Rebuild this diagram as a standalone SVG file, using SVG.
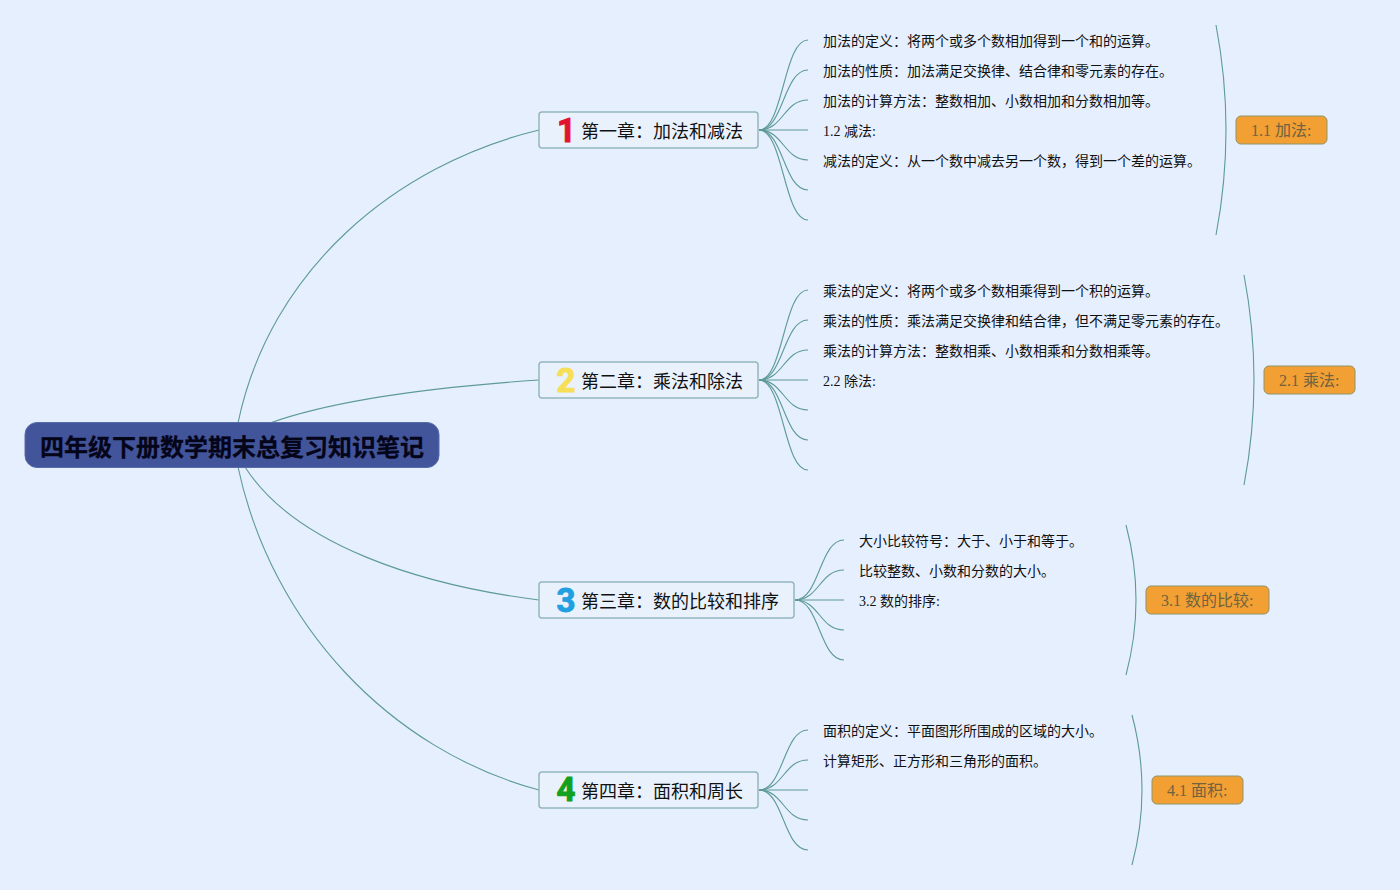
<svg xmlns="http://www.w3.org/2000/svg" width="1400" height="890" viewBox="0 0 1400 890">
<style>
text{font-family:"Liberation Serif","Noto Sans CJK SC",serif;white-space:pre}
.root{fill:#43559a;stroke:#5a6ca8;stroke-width:1}
.roott{font-family:"Liberation Sans","Noto Sans CJK SC",sans-serif;font-size:24px;font-weight:700;fill:#05051a;stroke:#05051a;stroke-width:.3}
.ch{fill:#e9f1fd;stroke:#94b7bd;stroke-width:1.5}
.cht{font-size:18px;fill:#111}
.num{font-family:Roboto,sans-serif;font-size:33px;font-weight:700;stroke-width:1;stroke-linejoin:round;text-anchor:middle}
.it{font-size:14px;fill:#111}
.lab{fill:#f2a033;stroke:#8f9468;stroke-width:1}
.labt{font-size:16px;fill:#6f6340}
.c path{fill:none;stroke:#5d9a98;stroke-width:1.1}
</style>
<rect width="1400" height="890" fill="#e6effd"/>
<g id="connectors" class="c">
<path d="M238 423C270 270 395 165 539 130"/>
<path d="M270 423C340 398 450 386 539 380"/>
<path d="M245 467C295 545 420 585 539 600"/>
<path d="M238 467C272 625 390 750 539 790"/>
<path d="M759 130C783.500 130 783.500 40 808 40"/><path d="M759 130C783.500 130 783.500 70 808 70"/><path d="M759 130C783.500 130 783.500 100 808 100"/><path d="M759 130H808"/><path d="M759 130C783.500 130 783.500 160 808 160"/><path d="M759 130C783.500 130 783.500 190 808 190"/><path d="M759 130C783.500 130 783.500 220 808 220"/>
<path d="M759 380C783.500 380 783.500 290 808 290"/><path d="M759 380C783.500 380 783.500 320 808 320"/><path d="M759 380C783.500 380 783.500 350 808 350"/><path d="M759 380H808"/><path d="M759 380C783.500 380 783.500 410 808 410"/><path d="M759 380C783.500 380 783.500 440 808 440"/><path d="M759 380C783.500 380 783.500 470 808 470"/>
<path d="M795 600C819.500 600 819.500 540 844 540"/><path d="M795 600C819.500 600 819.500 570 844 570"/><path d="M795 600H844"/><path d="M795 600C819.500 600 819.500 630 844 630"/><path d="M795 600C819.500 600 819.500 660 844 660"/>
<path d="M759 790C783.500 790 783.500 730 808 730"/><path d="M759 790C783.500 790 783.500 760 808 760"/><path d="M759 790H808"/><path d="M759 790C783.500 790 783.500 820 808 820"/><path d="M759 790C783.500 790 783.500 850 808 850"/>
<path d="M1216 25Q1236 130 1216 235"/>
<path d="M1244 275Q1264 380 1244 485"/>
<path d="M1126 525Q1146 600 1126 675"/>
<path d="M1132 715Q1152 790 1132 865"/>
</g>
<g id="root"><rect class="root" x="25" y="422.500" width="414" height="45" rx="12"/><text class="roott" x="40" y="456">四年级下册数学期末总复习知识笔记</text></g>
<g id="ch1"><rect class="ch" x="539" y="112" width="219" height="36" rx="3"/><text class="num" x="566.500" y="142" fill="#e0142f" stroke="#e0142f">1</text><text class="cht" x="581" y="138">第一章：加法和减法</text></g>
<g id="ch2"><rect class="ch" x="539" y="362" width="219" height="36" rx="3"/><text class="num" x="566" y="392" fill="#f7df55" stroke="#f7df55">2</text><text class="cht" x="581" y="388">第二章：乘法和除法</text></g>
<g id="ch3"><rect class="ch" x="539" y="582" width="255" height="36" rx="3"/><text class="num" x="566" y="612" fill="#229fe0" stroke="#229fe0">3</text><text class="cht" x="581" y="608">第三章：数的比较和排序</text></g>
<g id="ch4"><rect class="ch" x="539" y="772" width="219" height="36" rx="3"/><text class="num" x="566" y="801" fill="#12a01e" stroke="#12a01e">4</text><text class="cht" x="581" y="798">第四章：面积和周长</text></g>
<g id="items1" class="items">
<text class="it" x="823" y="46">加法的定义：将两个或多个数相加得到一个和的运算。</text>
<text class="it" x="823" y="76">加法的性质：加法满足交换律、结合律和零元素的存在。</text>
<text class="it" x="823" y="106">加法的计算方法：整数相加、小数相加和分数相加等。</text>
<text class="it" x="823" y="136">1.2 减法:</text>
<text class="it" x="823" y="166">减法的定义：从一个数中减去另一个数，得到一个差的运算。</text>
</g>
<g id="items2" class="items">
<text class="it" x="823" y="296">乘法的定义：将两个或多个数相乘得到一个积的运算。</text>
<text class="it" x="823" y="326">乘法的性质：乘法满足交换律和结合律，但不满足零元素的存在。</text>
<text class="it" x="823" y="356">乘法的计算方法：整数相乘、小数相乘和分数相乘等。</text>
<text class="it" x="823" y="386">2.2 除法:</text>
</g>
<g id="items3" class="items">
<text class="it" x="859" y="546">大小比较符号：大于、小于和等于。</text>
<text class="it" x="859" y="576">比较整数、小数和分数的大小。</text>
<text class="it" x="859" y="606">3.2 数的排序:</text>
</g>
<g id="items4" class="items">
<text class="it" x="823" y="736">面积的定义：平面图形所围成的区域的大小。</text>
<text class="it" x="823" y="766">计算矩形、正方形和三角形的面积。</text>
</g>
<g id="lab1"><rect class="lab" x="1236" y="116" width="91" height="28" rx="5"/><text class="labt" x="1251" y="136">1.1 加法:</text></g>
<g id="lab2"><rect class="lab" x="1264" y="366" width="91" height="28" rx="5"/><text class="labt" x="1279" y="386">2.1 乘法:</text></g>
<g id="lab3"><rect class="lab" x="1146" y="586" width="123" height="28" rx="5"/><text class="labt" x="1161" y="606">3.1 数的比较:</text></g>
<g id="lab4"><rect class="lab" x="1152" y="776" width="91" height="28" rx="5"/><text class="labt" x="1167" y="796">4.1 面积:</text></g>
</svg>
